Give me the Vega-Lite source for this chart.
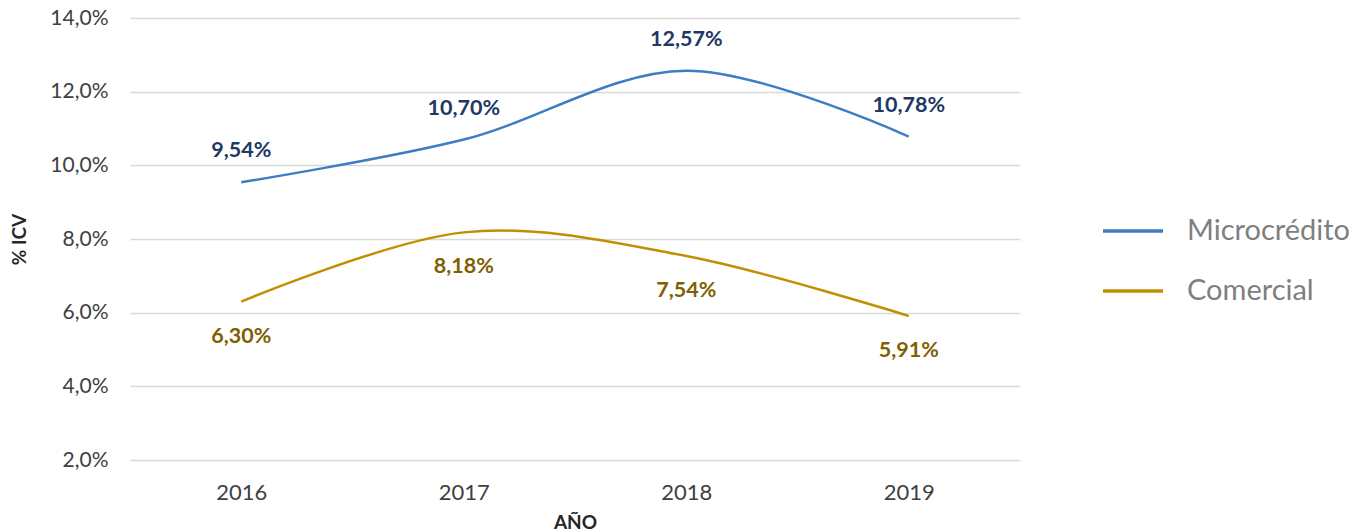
{
  "$schema": "https://vega.github.io/schema/vega-lite/v6.json",
  "autosize": "none",
  "width": 890,
  "height": 442,
  "padding": {"left": 130, "top": 18, "right": 340, "bottom": 72},
  "background": "white",
  "config": {
    "font": "Lato",
    "view": {"stroke": null},
    "axis": {"labelFont": "Lato", "titleFont": "Lato"}
  },
  "data": {
    "values": [
      {"year": "2016", "serie": "Microcrédito", "value": 9.54, "label": "9,54%"},
      {"year": "2017", "serie": "Microcrédito", "value": 10.70, "label": "10,70%"},
      {"year": "2018", "serie": "Microcrédito", "value": 12.57, "label": "12,57%"},
      {"year": "2019", "serie": "Microcrédito", "value": 10.78, "label": "10,78%"},
      {"year": "2016", "serie": "Comercial", "value": 6.30, "label": "6,30%"},
      {"year": "2017", "serie": "Comercial", "value": 8.18, "label": "8,18%"},
      {"year": "2018", "serie": "Comercial", "value": 7.54, "label": "7,54%"},
      {"year": "2019", "serie": "Comercial", "value": 5.91, "label": "5,91%"}
    ]
  },
  "encoding": {
    "x": {
      "field": "year", "type": "ordinal",
      "scale": {"type": "point", "padding": 0.5},
      "axis": {
        "title": "AÑO", "titleFontSize": 19, "titleFontWeight": "bold", "titleColor": "#262626",
        "titlePadding": 10,
        "labelAngle": 0, "labelFontSize": 22, "labelColor": "#404040", "labelPadding": 22,
        "domain": false, "ticks": false, "grid": false
      }
    },
    "y": {
      "field": "value", "type": "quantitative",
      "scale": {"domain": [2, 14], "nice": false, "zero": false},
      "axis": {
        "title": "% ICV", "titleFontSize": 19, "titleFontWeight": "bold", "titleColor": "#262626",
        "titlePadding": 20,
        "values": [2, 4, 6, 8, 10, 12, 14],
        "labelExpr": "replace(format(datum.value, '.1f'), '.', ',') + '%'",
        "labelFontSize": 21, "labelColor": "#404040", "labelPadding": 22,
        "domain": false, "ticks": false,
        "grid": true, "gridColor": "#D9D9D9", "gridWidth": 1.3
      }
    }
  },
  "layer": [
    {
      "mark": {"type": "line", "interpolate": "cardinal", "strokeWidth": 2.5},
      "encoding": {
        "color": {
          "field": "serie", "type": "nominal",
          "scale": {"domain": ["Microcrédito", "Comercial"], "range": ["#3D7DC3", "#C09000"]},
          "legend": {
            "title": null, "orient": "none", "legendX": 971, "legendY": 181,
            "symbolType": "stroke", "symbolSize": 3600, "symbolStrokeWidth": 3.5,
            "labelFontSize": 29, "labelColor": "#7F7F7F", "labelFont": "Lato",
            "labelOffset": 22, "rowPadding": 13, "labelLimit": 400
          }
        }
      }
    },
    {
      "transform": [{"filter": "datum.serie === 'Microcrédito'"}],
      "mark": {"type": "text", "dy": -31, "fontSize": 21.5, "fontWeight": "bold", "color": "#203864", "font": "Lato"},
      "encoding": {"text": {"field": "label"}}
    },
    {
      "transform": [{"filter": "datum.serie === 'Comercial'"}],
      "mark": {"type": "text", "dy": 35, "fontSize": 21.5, "fontWeight": "bold", "color": "#7F6000", "font": "Lato"},
      "encoding": {"text": {"field": "label"}}
    }
  ]
}
